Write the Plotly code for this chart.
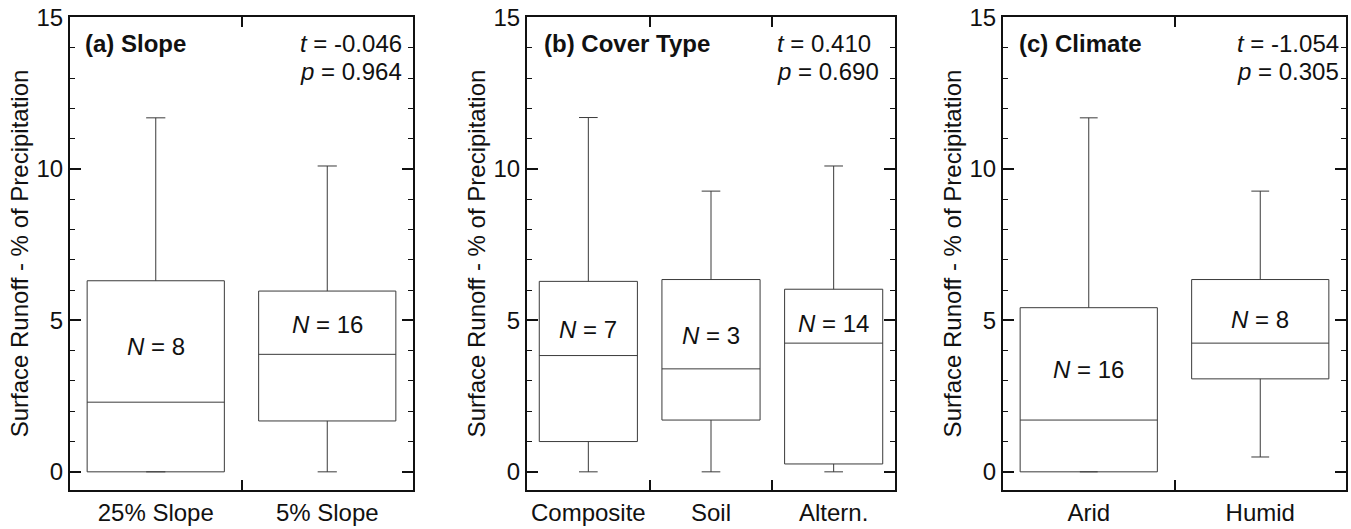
import plotly.graph_objects as go

# ---- data ----
slope_cats = ["25% Slope", "5% Slope"]
slope_q1 = [0.0, 1.68]
slope_med = [2.30, 3.88]
slope_q3 = [6.31, 5.97]
slope_lo = [0.0, 0.0]
slope_hi = [11.69, 10.10]
slope_n = [8, 16]
slope_ny = [4.13, 4.88]

cover_cats = ["Composite", "Soil", "Altern."]
cover_q1 = [1.00, 1.71, 0.26]
cover_med = [3.84, 3.40, 4.25]
cover_q3 = [6.29, 6.35, 6.03]
cover_lo = [0.0, 0.0, 0.0]
cover_hi = [11.70, 9.27, 10.10]
cover_n = [7, 3, 14]
cover_ny = [4.69, 4.49, 4.91]

climate_cats = ["Arid", "Humid"]
climate_q1 = [0.0, 3.07]
climate_med = [1.71, 4.25]
climate_q3 = [5.42, 6.35]
climate_lo = [0.0, 0.49]
climate_hi = [11.69, 9.27]
climate_n = [16, 8]
climate_ny = [3.37, 5.02]

titles = ["(a) Slope", "(b) Cover Type", "(c) Climate"]
t_vals = ["-0.046", "0.410", "-1.054"]
p_vals = ["0.964", "0.690", "0.305"]
y_title = "Surface Runoff - % of Precipitation"

W, H = 1351, 529
FONT = "Liberation Sans, Arial, Helvetica, sans-serif"
FS = 24
INK = "#111111"

# panel frames in pixels (left, right), common top/bottom
frames = [(70, 413), (527, 895), (1003, 1346)]
top_px, bot_px = 17, 490
whisk = [0.14, 0.19, 0.13]
title_off = [13, 15, 14]       # px from the left frame
stat_off = [228, 248, 232]     # px from the left frame (left-aligned t/p block)

panels = [
    (slope_cats, slope_q1, slope_med, slope_q3, slope_lo, slope_hi, slope_n, slope_ny),
    (cover_cats, cover_q1, cover_med, cover_q3, cover_lo, cover_hi, cover_n, cover_ny),
    (climate_cats, climate_q1, climate_med, climate_q3, climate_lo, climate_hi, climate_n, climate_ny),
]

fig = go.Figure()
annotations = []
layout = {}
for i, (cats, q1, med, q3, lo, hi, ns, nys) in enumerate(panels):
    k = "" if i == 0 else str(i + 1)
    xa, ya = "x" + k, "y" + k
    fig.add_trace(go.Box(
        x=cats, q1=q1, median=med, q3=q3, lowerfence=lo, upperfence=hi,
        xaxis=xa, yaxis=ya, boxpoints=False, fillcolor="white",
        line=dict(color="#3a3a3a", width=1), whiskerwidth=whisk[i],
        showlegend=False, hoverinfo="skip",
    ))
    l, r = frames[i]
    layout["xaxis" + k] = dict(
        domain=[l / W, r / W], anchor=ya, type="category",
        categoryorder="array", categoryarray=cats,
        tickson="boundaries", ticks="inside", ticklen=10, tickwidth=1.5,
        tickcolor=INK, showline=True, linecolor=INK, linewidth=2,
        mirror="ticks", showgrid=False, zeroline=False, tickangle=0, automargin=False,
        tickfont=dict(family=FONT, size=FS, color=INK), fixedrange=True,
    )
    layout["yaxis" + k] = dict(
        domain=[(H - bot_px) / H, (H - top_px) / H], anchor=xa,
        range=[-0.6, 15.02], tickmode="linear", tick0=0, dtick=5,
        ticks="inside", ticklen=11, tickwidth=1.5, tickcolor=INK,
        minor=dict(dtick=1, ticks="inside", ticklen=5, tickwidth=1.2, tickcolor=INK, showgrid=False),
        showline=True, linecolor=INK, linewidth=2, mirror="ticks",
        showgrid=False, zeroline=False, automargin=False,
        tickfont=dict(family=FONT, size=FS, color=INK),
        title=dict(text=y_title, font=dict(family=FONT, size=FS, color=INK), standoff=1),
        fixedrange=True,
    )
    dom = "x" + k + " domain"
    ydom = "y" + k + " domain"
    annotations.append(dict(text="<b>" + titles[i] + "</b>", xref=dom, yref=ydom,
                            x=title_off[i] / (r - l), y=0.945, xanchor="left", yanchor="middle",
                            showarrow=False, font=dict(family=FONT, size=FS, color=INK)))
    annotations.append(dict(text="<i>t</i> = " + t_vals[i], xref=dom, yref=ydom,
                            x=stat_off[i] / (r - l), y=0.945, xanchor="left", yanchor="middle",
                            showarrow=False, font=dict(family=FONT, size=FS, color=INK)))
    annotations.append(dict(text="<i>p</i> = " + p_vals[i], xref=dom, yref=ydom,
                            x=stat_off[i] / (r - l), y=0.884, xanchor="left", yanchor="middle",
                            showarrow=False, font=dict(family=FONT, size=FS, color=INK)))
    for c, n, ny in zip(cats, ns, nys):
        annotations.append(dict(text="<i>N</i> = " + str(n), xref=xa, yref=ya,
                                x=c, y=ny, xanchor="center", yanchor="middle",
                                showarrow=False, font=dict(family=FONT, size=FS, color=INK)))

fig.update_layout(
    width=W, height=H, margin=dict(l=0, r=0, t=0, b=0, autoexpand=False),
    paper_bgcolor="white", plot_bgcolor="white", boxgap=0.2, boxgroupgap=0,
    annotations=annotations, **layout,
)
fig.write_html("out.html", config={"displayModeBar": False},
               post_script="document.body.style.margin='0';document.body.style.overflow='hidden';")
